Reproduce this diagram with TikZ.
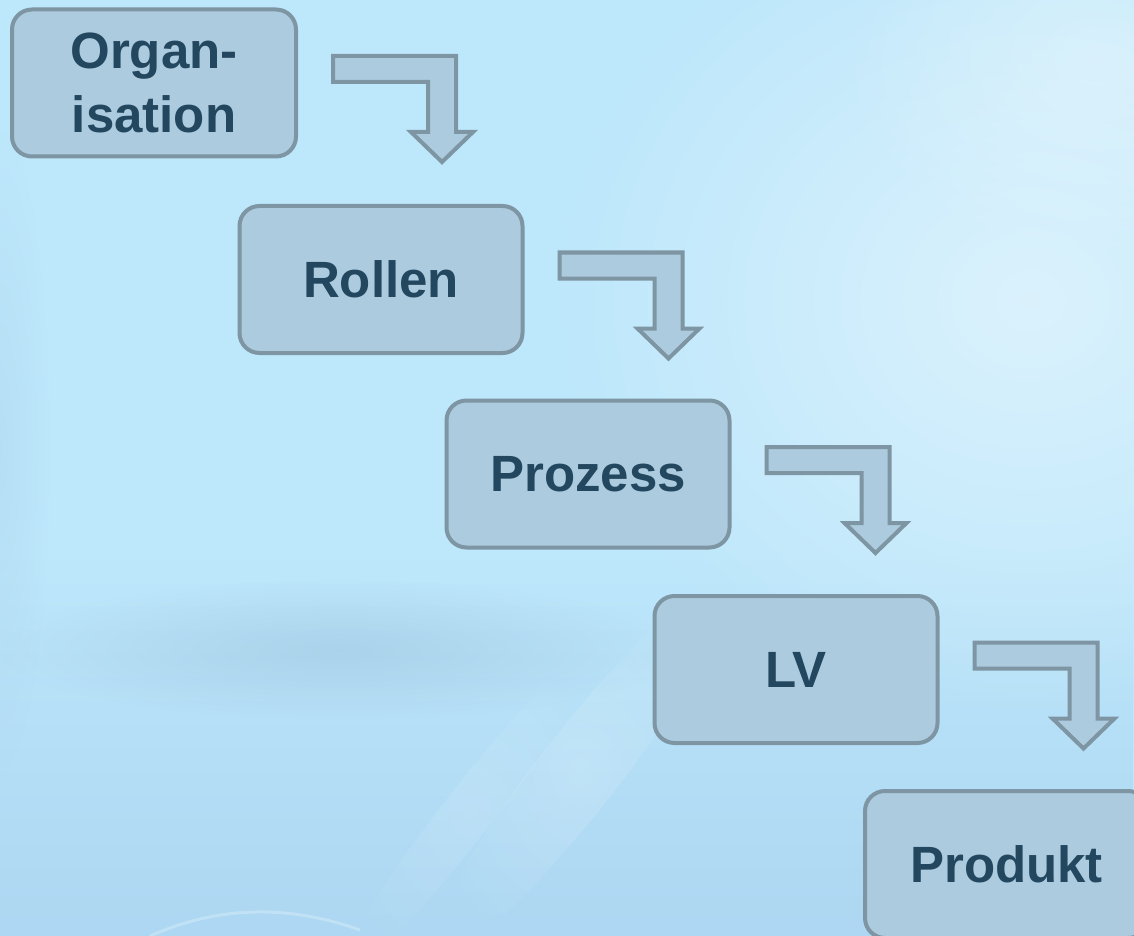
\documentclass[tikz,border=0pt]{standalone}
\usepackage{fontspec}
\setmainfont{Liberation Sans}
\usetikzlibrary{calc,fadings}

\definecolor{bgbase}{HTML}{BDE7FB}
\definecolor{bglow}{HTML}{ADD7F2}
\definecolor{bgband}{HTML}{9FC6E0}
\definecolor{boxfill}{HTML}{ACCBDF}
\definecolor{boxline}{HTML}{7E95A3}
\definecolor{boxtext}{HTML}{23475F}

\tikzfading[name=softglow, inner color=transparent!0, outer color=transparent!100]

\tikzset{
  stepbox/.style={draw=boxline, fill=boxfill, line width=2pt,
    rounded corners=10pt, minimum width=141.5pt, minimum height=73.5pt,
    inner sep=0pt, align=center, text=boxtext,
    font=\fontsize{25.5pt}{32pt}\selectfont\bfseries},
  flowarrow/.style={draw=boxline, fill=boxfill, line width=2pt, line join=miter}
}

% bent block arrow leaving the east side of a box
\newcommand\bentarrow[1]{%
  \draw[flowarrow] ($(#1.east)+(35,-27)$) -- ++(123,0) -- ++(0,76) -- ++(17,0)
    -- ++(-31,30) -- ++(-31,-30) -- ++(17,0) -- ++(0,-50) -- ++(-95,0) -- cycle;}

\begin{document}
\begin{tikzpicture}[x=0.5pt, y=-0.5pt]
  \useasboundingbox (0,0) rectangle (1134,936);
  \clip (0,0) rectangle (1134,936);

  % soft blue backdrop
  \fill[bgbase] (0,0) rectangle (1134,936);
  \fill[bglow, path fading=north] (0,560) rectangle (1134,936);
  \fill[white, opacity=0.45, path fading=softglow] (1030,300) ellipse (480 and 420);
  \fill[white, opacity=0.3, path fading=softglow] (1100,60) ellipse (260 and 200);
  \fill[bgband, opacity=0.55, path fading=softglow] (340,650) ellipse (340 and 70);
  \fill[bgband, opacity=0.25, path fading=softglow] (0,450) ellipse (50 and 320);
  % faint diagonal light streaks
  \fill[white, opacity=0.16, path fading=softglow, rotate around={52:(580,770)}]
    (580,770) ellipse (240 and 40);
  \fill[white, opacity=0.12, path fading=softglow, rotate around={52:(470,810)}]
    (470,810) ellipse (220 and 25);
  \draw[white, opacity=0.25, line width=1.5pt] (150,936) .. controls (220,905) and (290,905) .. (360,930);

  % process steps
  \node[stepbox, minimum width=142pt] (org) at (154,83) {Organ-\\isation};
  \node[stepbox] (rol) at (381,279.5) {Rollen};
  \node[stepbox] (pro) at (588,474) {Prozess};
  \node[stepbox] (lv)  at (796,669.5) {LV};
  \node[stepbox] (prd) at (1006.5,864.5) {Produkt};

  % connecting arrows
  \bentarrow{org}
  \bentarrow{rol}
  \bentarrow{pro}
  \bentarrow{lv}
\end{tikzpicture}
\end{document}
